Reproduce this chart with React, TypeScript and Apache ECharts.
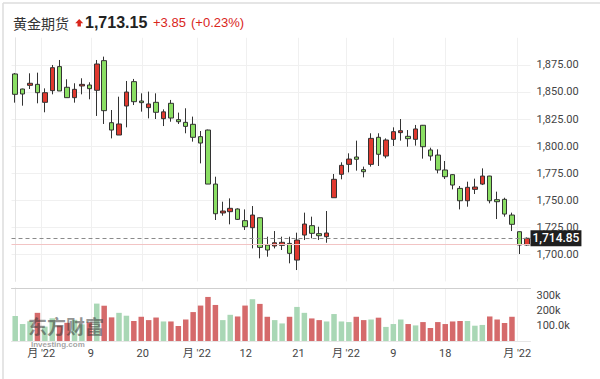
import React, { useEffect, useRef } from "react";
import * as echarts from "echarts";

// ---- data ----
const dates = [
  "2022-05-25", "2022-05-26", "2022-05-27", "2022-05-31", "2022-06-01", "2022-06-02", "2022-06-03",
  "2022-06-06", "2022-06-07", "2022-06-08", "2022-06-09", "2022-06-10", "2022-06-13", "2022-06-14",
  "2022-06-15", "2022-06-16", "2022-06-17", "2022-06-21", "2022-06-22", "2022-06-23", "2022-06-24",
  "2022-06-27", "2022-06-28", "2022-06-29", "2022-06-30", "2022-07-01", "2022-07-05", "2022-07-06",
  "2022-07-07", "2022-07-08", "2022-07-11", "2022-07-12", "2022-07-13", "2022-07-14", "2022-07-15",
  "2022-07-18", "2022-07-19", "2022-07-20", "2022-07-21", "2022-07-22", "2022-07-25", "2022-07-26",
  "2022-07-27", "2022-07-28", "2022-07-29", "2022-08-01", "2022-08-02", "2022-08-03", "2022-08-04",
  "2022-08-05", "2022-08-08", "2022-08-09", "2022-08-10", "2022-08-11", "2022-08-12", "2022-08-15",
  "2022-08-16", "2022-08-17", "2022-08-18", "2022-08-19", "2022-08-22", "2022-08-23", "2022-08-24",
  "2022-08-25", "2022-08-26", "2022-08-29", "2022-08-30", "2022-08-31", "2022-09-01", "2022-09-02",
];

const opens = [
  1866.6, 1852.7, 1856.1, 1857.0, 1840.4, 1851.2, 1873.4, 1854.3, 1844.7, 1855.5,
  1856.4, 1851.5, 1878.9, 1821.6, 1810.2, 1837.0, 1859.5, 1841.6, 1835.5, 1840.4,
  1825.3, 1839.5, 1824.4, 1821.9, 1820.1, 1808.7, 1814.8, 1764.9, 1738.2, 1739.4,
  1741.9, 1731.1, 1724.6, 1733.8, 1708.6, 1707.7, 1708.3, 1710.1, 1694.7, 1717.8,
  1726.5, 1719.1, 1716.3, 1752.3, 1773.9, 1783.1, 1789.9, 1778.2, 1783.1, 1808.1,
  1790.8, 1806.2, 1812.4, 1809.0, 1806.2, 1819.2, 1796.4, 1791.7, 1777.9, 1773.6,
  1760.9, 1749.5, 1760.0, 1764.9, 1772.3, 1750.5, 1750.8, 1736.3, 1720.9, 1708.6,
];
const closes = [
  1847.8, 1848.1, 1858.0, 1849.3, 1849.3, 1872.4, 1850.9, 1844.7, 1852.4, 1857.0,
  1853.0, 1875.8, 1832.7, 1814.8, 1820.4, 1849.9, 1841.0, 1840.1, 1838.9, 1831.2,
  1831.6, 1825.9, 1822.5, 1818.2, 1808.1, 1802.8, 1764.9, 1737.5, 1740.0, 1742.5,
  1732.3, 1725.5, 1736.3, 1706.4, 1704.0, 1710.7, 1711.1, 1700.9, 1713.2, 1728.0,
  1719.4, 1717.2, 1719.7, 1769.3, 1782.2, 1788.0, 1787.8, 1776.3, 1807.1, 1792.4,
  1805.6, 1813.3, 1814.2, 1806.8, 1815.8, 1799.4, 1790.8, 1777.9, 1771.7, 1764.0,
  1749.5, 1761.9, 1762.2, 1772.3, 1749.5, 1748.6, 1737.2, 1727.7, 1708.6, 1714.85,
];
const lows = [
  1840.1, 1837.3, 1852.7, 1839.5, 1831.2, 1847.8, 1850.9, 1844.7, 1840.1, 1847.8,
  1843.2, 1827.8, 1820.4, 1807.1, 1810.2, 1817.3, 1837.9, 1831.8, 1825.6, 1825.0,
  1818.5, 1822.5, 1820.4, 1811.8, 1804.1, 1784.0, 1764.9, 1731.7, 1735.7, 1727.7,
  1731.7, 1722.5, 1705.5, 1696.3, 1697.8, 1705.5, 1704.0, 1691.7, 1685.5, 1713.2,
  1714.8, 1713.2, 1710.7, 1752.3, 1769.3, 1775.7, 1777.3, 1771.1, 1781.0, 1781.6,
  1788.7, 1800.1, 1805.0, 1799.4, 1800.4, 1788.4, 1786.5, 1774.8, 1769.6, 1760.0,
  1741.5, 1744.0, 1755.7, 1764.0, 1747.1, 1732.6, 1734.8, 1721.5, 1700.3, 1708.0,
];
const highs = [
  1867.5, 1853.0, 1867.2, 1867.8, 1853.3, 1874.9, 1879.5, 1861.7, 1858.0, 1862.6,
  1858.9, 1879.5, 1882.6, 1833.3, 1845.6, 1860.1, 1862.0, 1848.7, 1850.3, 1848.7,
  1833.9, 1842.6, 1830.9, 1834.9, 1827.2, 1813.9, 1815.2, 1771.7, 1748.6, 1751.7,
  1742.5, 1741.5, 1744.6, 1734.0, 1716.3, 1721.5, 1716.3, 1716.3, 1720.0, 1738.5,
  1734.8, 1725.5, 1740.0, 1774.2, 1785.0, 1793.3, 1805.0, 1781.0, 1811.8, 1811.8,
  1807.1, 1817.3, 1825.0, 1814.8, 1819.5, 1819.5, 1798.5, 1797.0, 1786.2, 1774.0,
  1763.1, 1767.1, 1769.9, 1779.4, 1772.5, 1757.9, 1752.3, 1738.5, 1721.0, 1715.6,
];
// volume in thousands (latest two sessions not yet reported)
const volumesK = [
  165, 112, 130, 186, 95, 150, 101, 120, 140, 110,
  123, 247, 233, 156, 186, 167, 132, 160, 138, 155,
  129, 129, 99, 142, 191, 234, 291, 238, 138, 173,
  162, 234, 276, 245, 160, 138, 116, 160, 225, 186,
  149, 138, 129, 178, 129, 125, 160, 138, 142, 154,
  93, 112, 142, 112, 103, 125, 86, 125, 112, 129,
  132, 132, 101, 106, 162, 142, 119, 160,
];

const tickPositions = [3.5, 10.2, 17.2, 24.5, 31.1, 38.2, 44.6, 51, 58, 67.7];
const tickLabels = ["月 '22", "9", "20", "月 '22", "12", "21", "月 '22", "9", "18", "月 '22"];

const title = "黄金期货";
const headerPrice = "1,713.15";
const headerChange = "+3.85";
const headerPct = "(+0.23%)";
const lastPrice = 1714.85;
const prevClose = 1709.3;
const watermarkMain = "东方财富";
const watermarkSub = "Investing.com";

// ---- styles ----
const UP_FILL = "#e0392f";
const DOWN_FILL = "#8ade63";
const CANDLE_BORDER = "#333333";
const VOL_UP = "#a9d7b5";
const VOL_DOWN = "#d56a6b";
const RED_TEXT = "#d9261c";
const AXIS_TEXT = "#444";
const GRID_LINE = "#f0f0f0";

const fmtPrice = (v: number) =>
  v.toLocaleString("en-US", { minimumFractionDigits: 2, maximumFractionDigits: 2 });

export default function App() {
  const ref = useRef<HTMLDivElement>(null);

  useEffect(() => {
    if (!ref.current) return;
    const chart = echarts.init(ref.current, null, { renderer: "svg" });

    const candleData = dates.map((_, i) => [opens[i], closes[i], lows[i], highs[i]]);
    const volData = volumesK.map((v, i) => ({
      value: v * 1000,
      itemStyle: { color: i === 0 || closes[i] >= closes[i - 1] ? VOL_UP : VOL_DOWN },
    }));

    const option: any = {
      animation: false,
      backgroundColor: "#fff",
      textStyle: { fontFamily: "Roboto, 'Noto Sans CJK SC', sans-serif" },
      graphic: [
        { type: "line", shape: { x1: 3, y1: 3, x2: 600, y2: 3 }, style: { stroke: "#dcdcdc", lineWidth: 1.5 }, silent: true },
        { type: "line", shape: { x1: 3, y1: 3, x2: 3, y2: 379 }, style: { stroke: "#dcdcdc", lineWidth: 1.5 }, silent: true },
        {
          type: "text", x: 13, y: 22.5,
          style: { text: title, fill: "#333", fontSize: 14, fontFamily: "'Noto Sans CJK SC', sans-serif", verticalAlign: "middle" },
        },
        {
          type: "polygon",
          shape: { points: [[79.2, 19.0], [83.2, 23.3], [80.9, 23.3], [80.9, 26.5], [77.5, 26.5], [77.5, 23.3], [75.2, 23.3]] },
          style: { fill: RED_TEXT },
        },
        {
          type: "text", x: 85, y: 22.5,
          style: { text: headerPrice, fill: "#222", fontSize: 16, fontWeight: "bold", fontFamily: "'Liberation Sans', Arial, sans-serif", verticalAlign: "middle" },
        },
        {
          type: "text", x: 153, y: 22.5,
          style: { text: headerChange, fill: RED_TEXT, fontSize: 13, fontFamily: "'Liberation Sans', Arial, sans-serif", verticalAlign: "middle" },
        },
        {
          type: "text", x: 191, y: 22.5,
          style: { text: headerPct, fill: RED_TEXT, fontSize: 13, fontFamily: "'Liberation Sans', Arial, sans-serif", verticalAlign: "middle" },
        },
        {
          type: "text", x: 28, y: 325, z: 100, silent: true,
          style: {
            text: watermarkMain, fill: "rgba(55,55,55,0.55)", fontSize: 19, fontWeight: "bold",
            fontFamily: "'Noto Sans CJK SC', sans-serif", verticalAlign: "middle",
          },
        },
        {
          type: "text", x: 31, y: 344, z: 100, silent: true,
          style: {
            text: watermarkSub, fill: "rgba(70,70,70,0.5)", fontSize: 8, fontWeight: "bold",
            fontFamily: "'Liberation Sans', Arial, sans-serif", verticalAlign: "middle",
          },
        },
      ],
      grid: [
        { left: 11.5, right: 69.5, top: 37.8, bottom: 97.6, outerBoundsMode: "none", containLabel: false },
        { left: 11.5, right: 69.5, top: 288, bottom: 38, outerBoundsMode: "none", containLabel: false },
      ],
      xAxis: [
        { type: "category", gridIndex: 0, data: dates, show: false, axisLine: { onZero: false } },
        {
          type: "value", gridIndex: 0, min: -0.5, max: 69.5,
          axisLine: { show: false, onZero: false },
          axisTick: { show: false, customValues: tickPositions },
          axisLabel: { show: false, customValues: tickPositions },
          splitLine: { show: true, lineStyle: { color: GRID_LINE, width: 1 } },
        },
        {
          type: "category", gridIndex: 1, data: dates, position: "top",
          axisLine: { show: true, onZero: false, lineStyle: { color: "#cfcfcf", width: 1 } },
          axisTick: { show: false }, axisLabel: { show: false }, splitLine: { show: false },
        },
        {
          type: "value", gridIndex: 1, min: -0.5, max: 69.5, position: "bottom",
          axisLine: { show: true, onZero: false, lineStyle: { color: "#e6e6e6", width: 1 } },
          axisTick: { show: false, customValues: tickPositions },
          axisLabel: {
            customValues: tickPositions,
            color: AXIS_TEXT, fontSize: 11, margin: 7,
            fontFamily: "Roboto, 'Noto Sans CJK SC', sans-serif",
            formatter: (v: number) => {
              const k = tickPositions.indexOf(v);
              return k >= 0 ? tickLabels[k] : "";
            },
          },
          splitLine: { show: true, lineStyle: { color: GRID_LINE, width: 1 } },
        },
      ],
      yAxis: [
        {
          type: "value", gridIndex: 0, position: "right", min: 1675, max: 1900, interval: 25,
          axisLine: { show: true, lineStyle: { color: "#e4e4e4" } },
          axisTick: { show: false },
          axisLabel: {
            color: AXIS_TEXT, fontSize: 11, margin: 6,
            fontFamily: "Roboto, sans-serif",
            formatter: (v: number) => (v <= 1675 || v >= 1900 ? "" : fmtPrice(v)),
          },
          splitLine: { show: true, showMinLine: false, showMaxLine: false, lineStyle: { color: GRID_LINE } },
        },
        {
          type: "value", gridIndex: 1, position: "right", min: 0, max: 350000, interval: 100000,
          axisLine: { show: true, lineStyle: { color: "#e4e4e4" } },
          axisTick: { show: false },
          axisLabel: {
            color: AXIS_TEXT, fontSize: 11, margin: 6,
            fontFamily: "Roboto, sans-serif",
            formatter: (v: number) =>
              v === 0 || v >= 350000 ? "" : v === 100000 ? "100.0k" : `${v / 1000}k`,
          },
          splitLine: { show: false },
        },
      ],
      series: [
        {
          type: "candlestick",
          xAxisIndex: 0, yAxisIndex: 0,
          data: candleData,
          barWidth: 5,
          itemStyle: {
            color: UP_FILL, color0: DOWN_FILL,
            borderColor: CANDLE_BORDER, borderColor0: CANDLE_BORDER, borderWidth: 1,
          },
          markLine: {
            silent: true,
            symbol: ["none", "none"],
            animation: false,
            z: 10,
            data: [
              {
                yAxis: prevClose,
                lineStyle: { color: "#f2c4c4", type: "solid", width: 1.2 },
                label: { show: false },
              },
              {
                yAxis: lastPrice,
                lineStyle: { color: "#8a8a8a", type: [4, 3], width: 1 },
                label: {
                  show: true, position: "end", distance: 0,
                  formatter: () => fmtPrice(lastPrice),
                  backgroundColor: "#1f1f1f", color: "#fff",
                  fontSize: 12, fontWeight: 500, lineHeight: 12,
                  padding: [2, 2, 2, 2],
                  fontFamily: "Roboto, sans-serif",
                },
              },
            ],
          },
        },
        {
          type: "bar",
          xAxisIndex: 2, yAxisIndex: 1,
          data: volData,
          barWidth: 5.5,
        },
      ],
    };

    chart.setOption(option);
    return () => chart.dispose();
  }, []);

  return (
    <div
      ref={ref}
      style={{ position: "fixed", left: 0, top: 0, width: 600, height: 379, background: "#fff" }}
    />
  );
}
